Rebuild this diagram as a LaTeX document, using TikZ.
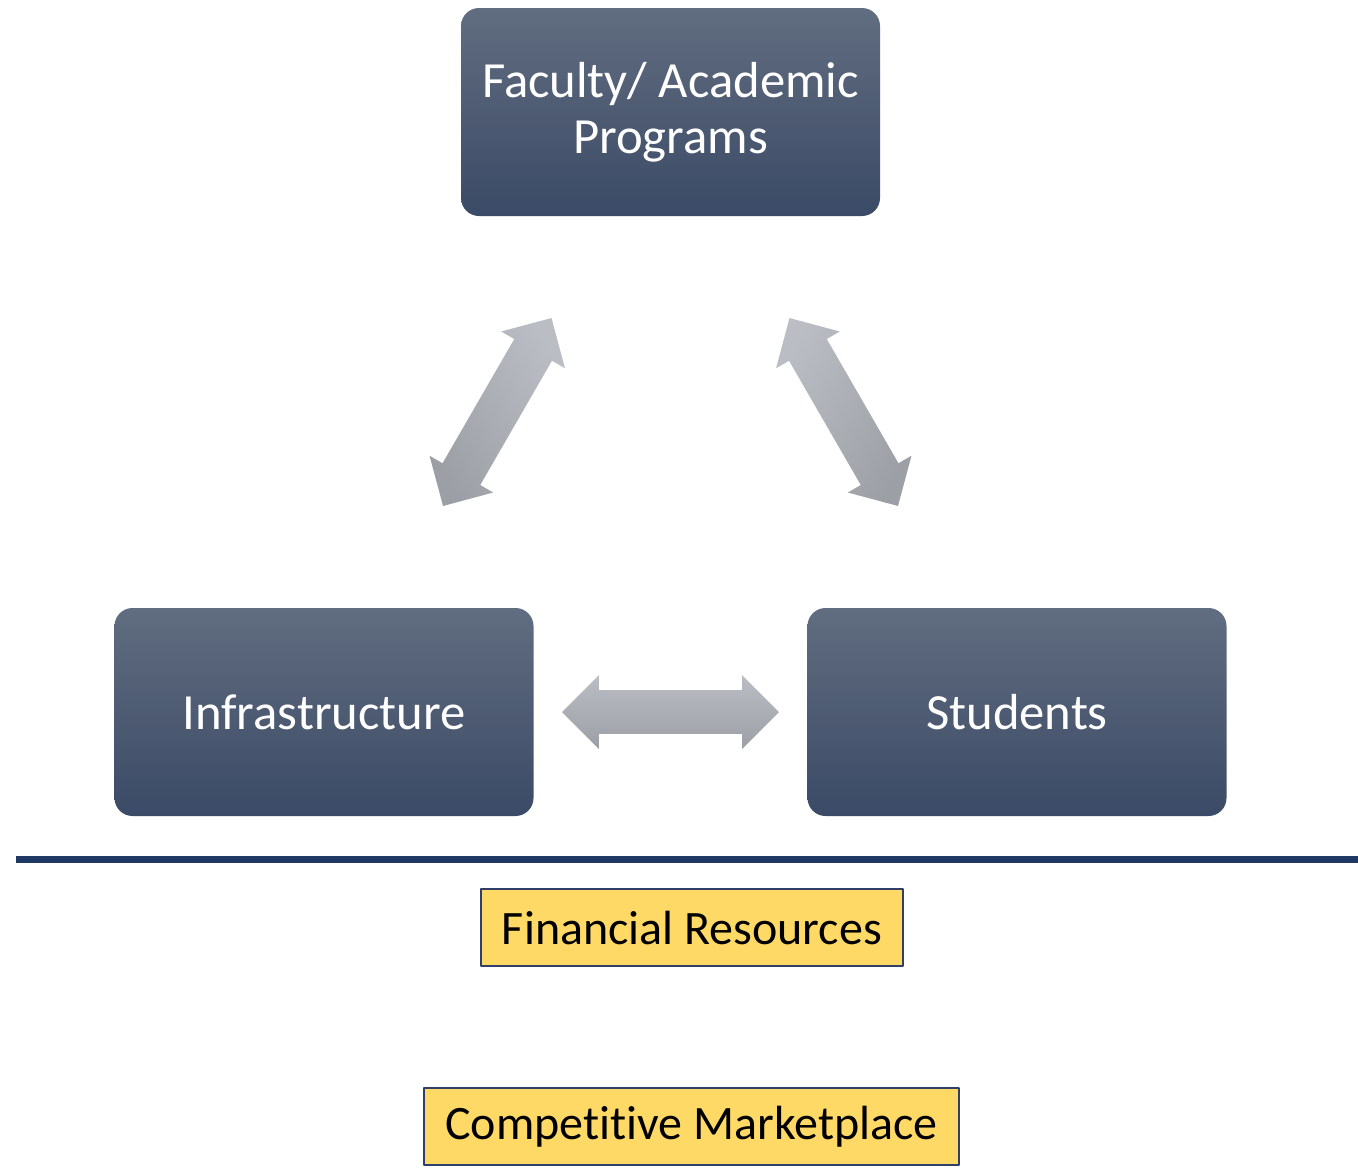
\documentclass[tikz,border=0pt]{standalone}
\usepackage{fontspec}
\setmainfont{Carlito}[Ligatures=CommonOff]
\usetikzlibrary{shapes.arrows,calc}
\definecolor{slatetop}{HTML}{616D80}
\definecolor{slatebot}{HTML}{3B4A66}
\definecolor{arrowtop}{HTML}{BABDC3}
\definecolor{arrowbot}{HTML}{9C9FA6}
\definecolor{rulenavy}{HTML}{1F3864}
\definecolor{notefill}{HTML}{FFD966}
\definecolor{noteedge}{HTML}{2F3F6A}
\begin{document}
\begin{tikzpicture}[x=0.75pt, y=-0.75pt, line join=round,
    pillar/.style={rectangle, rounded corners=13.5pt, top color=slatetop, bottom color=slatebot,
        minimum width=314.25pt, minimum height=156pt, inner sep=0pt, align=center,
        text=white, font=\fontsize{38}{42}\selectfont},
    twoway/.style={double arrow, double arrow head extend=11.25pt, minimum height=162.75pt,
        minimum width=54.75pt, inner xsep=0pt, inner ysep=16.125pt,
        top color=arrowtop, bottom color=arrowbot},
    note/.style={rectangle, draw=noteedge, line width=1.1pt, fill=notefill,
        minimum height=57.75pt, inner sep=0pt, font=\fontsize{36}{42}\selectfont}]
    \useasboundingbox (0,0) rectangle (1358,1168);

    % the three pillars
    \node[pillar] (fac) at (670.5,112) {Faculty/ Academic\\Programs};
    \node[pillar] (infra) at (324,712) {Infrastructure};
    \node[pillar] (stud) at (1017,712) {Students};

    % two-way links
    \node[twoway, rotate=60, shading angle=-60] (linkL) at ($(fac)!0.5!(infra)$) {};
    \node[twoway, rotate=-60, shading angle=60] (linkR) at ($(fac)!0.5!(stud)$) {};
    \node[twoway] (linkB) at ($(infra)!0.5!(stud)$) {};

    % base line
    \coordinate (ruleL) at (16,859);
    \coordinate (ruleR) at (1358,859);
    \draw[rulenavy, line width=5.25pt] (ruleL) -- (ruleR);

    \node[note, minimum width=316.5pt] (fin) at (692,927.5) {Financial Resources};
    \node[note, minimum width=401.25pt] (comp) at (691.5,1126.5) {Competitive Marketplace};
\end{tikzpicture}
\end{document}
